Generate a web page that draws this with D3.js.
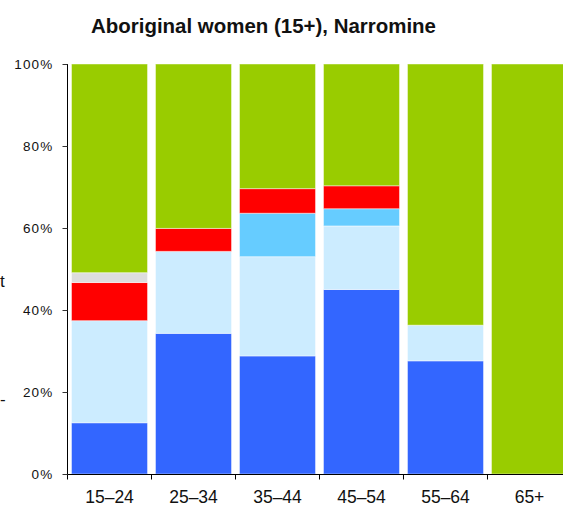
<!DOCTYPE html>
<html>
<head>
<meta charset="utf-8">
<script src="https://cdn.jsdelivr.net/npm/d3@7"></script>
<style>
  html, body { margin: 0; padding: 0; background: #fff; }
  svg { display: block; }
</style>
</head>
<body>
<svg id="chart" width="563" height="506"></svg>
<script>
// ---- data ----
const title = "Aboriginal women (15+), Narromine";
const categories = ["15–24", "25–34", "35–44", "45–54", "55–64", "65+"];
const seriesNames = ["s1", "s2", "s3", "s4", "s5", "s6"];
const seriesColors = ["#3366FF", "#CCECFF", "#66CCFF", "#FF0000", "#DDDDDD", "#99CC00"];
// values per series (bottom to top), one per category, in percent
const s1 = [12.5, 34.3, 28.8, 45.0, 27.6, 0];
const s2 = [24.9, 20.0, 24.2, 15.5, 8.7, 0];
const s3 = [0, 0, 10.6, 4.2, 0, 0];
const s4 = [9.3, 5.6, 6.0, 5.6, 0, 0];
const s5 = [2.4, 0, 0, 0, 0, 0];
const s6 = [50.9, 40.1, 30.4, 29.7, 63.7, 100];
const yTicks = [0, 20, 40, 60, 80, 100];
const leftFragments = ["t", "-"];

// ---- build ----
const seriesValues = [s1, s2, s3, s4, s5, s6];
const rows = categories.map((c, i) => {
  const r = { cat: c };
  seriesNames.forEach((s, j) => r[s] = seriesValues[j][i]);
  return r;
});
const stacked = d3.stack().keys(seriesNames)(rows);

const svg = d3.select("#chart");
const x = d3.scaleBand().domain(categories).range([67.5, 571.5])
  .paddingInner(0.095).paddingOuter(0.0476);
const y = d3.scaleLinear().domain([0, 100]).range([474, 64]);

// bars
svg.append("g").selectAll("g").data(stacked).join("g")
  .attr("fill", (d, i) => seriesColors[i])
  .selectAll("rect").data(d => d.filter(p => p[1] - p[0] > 0)).join("rect")
  .attr("x", d => x(d.data.cat))
  .attr("width", x.bandwidth())
  .attr("y", d => y(d[1]))
  .attr("height", d => y(d[0]) - y(d[1]))
  .attr("stroke", "rgba(255,255,255,0.45)")
  .attr("stroke-width", 1);

// y axis
const yAxis = d3.axisLeft(y).tickValues(yTicks).tickFormat(d => d + "%")
  .tickSize(5).tickPadding(9);
const ga = svg.append("g").attr("transform", "translate(67.5,0)").call(yAxis);
ga.select(".domain").attr("stroke", "#000").attr("d", "M0,64V474");
ga.selectAll(".tick line").attr("stroke", "#333");
ga.selectAll("text").attr("font-family", "Liberation Sans, Arial, sans-serif")
  .attr("font-size", 13.5).attr("letter-spacing", 1.2).attr("fill", "#111");

// x axis
const xAxis = d3.axisBottom(x).tickSize(0).tickPadding(16);
const gx = svg.append("g").attr("transform", "translate(0,474.5)").call(xAxis);
gx.select(".domain").attr("stroke", "#000").attr("d", "M67.5,0H563");
gx.selectAll("text").attr("font-family", "Liberation Sans Narrow, Arial Narrow, sans-serif")
  .attr("font-size", 17.5).attr("fill", "#111");
// band-boundary ticks
const bounds = categories.map(c => x(c) - x.step() * x.paddingInner() / 2);
bounds[0] = 67.5;
gx.append("g").selectAll("line").data(bounds).join("line")
  .attr("x1", d => d).attr("x2", d => d).attr("y1", 0).attr("y2", 5)
  .attr("stroke", "#000");

// title
svg.append("text").attr("x", 91).attr("y", 32.5)
  .attr("font-family", "Liberation Sans, Arial, sans-serif")
  .attr("font-weight", "bold").attr("font-size", 19.5).attr("fill", "#111")
  .attr("textLength", 345).attr("lengthAdjust", "spacingAndGlyphs")
  .text(title);

// cut-off fragments on the left edge
svg.append("text").attr("x", 0).attr("y", 287)
  .attr("font-family", "Liberation Sans, Arial, sans-serif").attr("font-size", 17)
  .attr("fill", "#111").text(leftFragments[0]);
svg.append("text").attr("x", 0).attr("y", 405)
  .attr("font-family", "Liberation Sans, Arial, sans-serif").attr("font-size", 17)
  .attr("fill", "#111").text(leftFragments[1]);
</script>
</body>
</html>
